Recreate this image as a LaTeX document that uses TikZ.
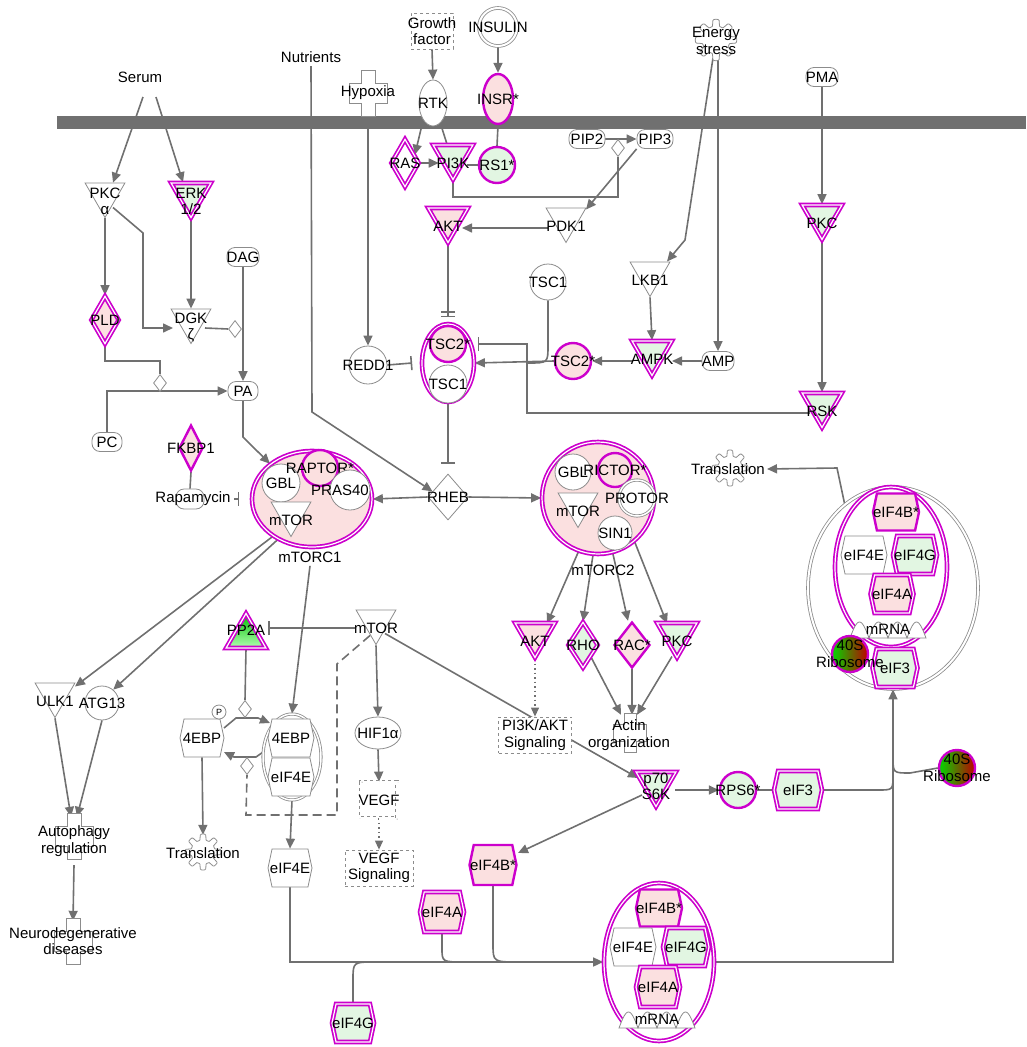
\documentclass[tikz,border=0pt]{standalone}
\usepackage{fontspec}
\setmainfont{Liberation Sans}
\usetikzlibrary{shapes.geometric,shapes.symbols,arrows.meta}
\pgfdeclarelayer{bg}
\pgfsetlayers{bg,main}
\definecolor{mag}{RGB}{204,0,204}
\definecolor{pk}{RGB}{251,224,224}
\definecolor{gn}{RGB}{226,246,226}
\definecolor{lgray}{RGB}{112,112,112}
\definecolor{ngray}{RGB}{140,140,140}
\tikzset{
  gear/.pic={\draw[ngray,line width=0.8pt,fill=white] plot[domain=0:357,samples=120,smooth cycle] (\x:{15+3*tanh(3*cos(8*\x))});},
  plus/.pic={\draw[ngray,line width=0.8pt,fill=white] (-7,-23) -- (7,-23) -- (7,-10) -- (19,-10) -- (19,10) -- (7,10) -- (7,23) -- (-7,23) -- (-7,10) -- (-19,10) -- (-19,-10) -- (-7,-10) -- cycle;},
  mrna/.pic={\draw[ngray,line width=0.8pt,fill=white] plot[domain=0:4,samples=81] ({-38+19*\x},{-16*abs(sin(180*\x))}) -- cycle;}
}
\begin{document}
\begin{tikzpicture}[x=1pt,y=-1pt,font=\fontsize{15}{16.5}\selectfont,
  lbs/.style={align=center,inner sep=0pt},
  lb/.style={label={[lbs]center:#1}},
  tlb/.style={label={[lbs,yshift=-7pt]center:#1}},
  gr/.style={draw=ngray,line width=0.8pt,fill=white},
  m1/.style={draw=mag,line width=2.4pt},
  m2/.style={draw=mag,line width=1.7pt,double=white,double distance=1.2pt},
  tridn/.style={regular polygon,regular polygon sides=3,shape border rotate=180,minimum size=46pt,inner sep=0pt},
  triup/.style={regular polygon,regular polygon sides=3,minimum size=46pt,inner sep=0pt},
  hex/.style={signal,signal to=east and west,signal pointer angle=156,inner sep=0pt,minimum width=46pt,minimum height=38pt},
  chem/.style={gr,rectangle,rounded corners=8pt,inner sep=0pt,minimum width=32pt,minimum height=19pt},
  smd/.style={gr,diamond,inner sep=0pt,minimum width=13pt,minimum height=17pt},
  box/.style={draw=ngray,line width=0.8pt,dashed,fill=white,inner sep=0pt},
  ln/.style={draw=lgray,line width=1.6pt},
  arr/.style={ln,-{Triangle[length=10pt,width=9pt]}},
  inh/.style={ln,-{Bar[width=14pt]}},
  dot/.style={draw=lgray,line width=1.2pt,dash pattern=on 1.5pt off 3pt,-{Triangle[length=9pt,width=8pt]}}
]
\useasboundingbox (0,0) rectangle (1026,1047);

% outside the cell
\node (serum) at (140,77) {Serum};
\node (nutr) at (311,57) {Nutrients};
\node[box,minimum width=42pt,minimum height=36pt,lb={Growth\\factor}] (gf) at (432,31) {};
\node[circle,gr,double,double distance=2pt,minimum size=38pt,lb={INSULIN}] (insulin) at (498,27) {};
\pic at (368,93) {plus};
\node[inner sep=0pt,minimum height=40pt] (hypox) at (368,93) {Hypoxia};
\pic[scale=1.15] at (716,40) {gear};
\node[align=center] (energy) at (716,41) {Energy\\stress};
\node[chem,lb=PMA] (pma) at (822,77) {};

% membrane level
\node[ellipse,gr,minimum width=28pt,minimum height=46pt,lb=RTK] (rtk) at (433,103) {};
\node[ellipse,m1,fill=pk,minimum width=30pt,minimum height=50pt,lb={INSR*}] (insr) at (498,99) {};
\node[diamond,m2,fill=white,inner sep=0pt,minimum width=28pt,minimum height=48pt,lb=RAS] (ras) at (405,163) {};
\node[tridn,m2,fill=gn,tlb=PI3K] (pi3k) at (453,156.5) {};
\node[circle,m1,fill=gn,minimum size=36pt,lb={RS1*}] (rs1) at (497,165) {};
\node[chem,minimum width=36pt,lb=PIP2] (pip2) at (587,139) {};
\node[chem,minimum width=36pt,lb=PIP3] (pip3) at (655,139) {};
\node[smd] (dm1) at (618,148) {};
\node[tridn,m2,fill=pk,tlb=AKT] (akt1) at (448,219.5) {};
\node[tridn,gr,tlb=PDK1] (pdk1) at (566,219.5) {};
\node[tridn,m2,fill=gn,tlb=PKC] (pkc1) at (822,216.5) {};
\node[tridn,gr,tlb=LKB1] (lkb1) at (650,273.5) {};
\node[circle,gr,minimum size=36pt,lb=TSC1] (tsc1a) at (548,282) {};
\node[tridn,m2,fill=gn,tlb=AMPK] (ampk) at (652,352.5) {};
\node[chem,lb=AMP] (amp) at (718,361) {};
\node[circle,m1,fill=pk,minimum size=36pt,lb={TSC2*}] (tsc2b) at (573,361) {};
\node[tridn,m2,fill=gn,tlb=RSK] (rsk) at (822,404.5) {};
\node[circle,gr,minimum size=38pt,lb=REDD1] (redd1) at (368,365) {};
\node[ellipse,m2,fill=white,minimum width=52pt,minimum height=78pt] (tsccx) at (448,363) {};
\node[circle,m1,fill=pk,minimum size=36pt,lb={TSC2*}] (tsc2a) at (448,344) {};
\node[circle,gr,minimum size=38pt,lb=TSC1] (tsc1b) at (448,384) {};

% lipid branch
\node[tridn,gr,tlb={PKC\\α}] (pkca) at (105,194.5) {};
\node[tridn,m2,fill=gn,tlb={ERK\\1/2}] (erk) at (191,194.5) {};
\node[chem,lb=DAG] (dag) at (243,257) {};
\node[tridn,gr,tlb={DGK\\ζ}] (dgk) at (191,320.5) {};
\node[smd] (dm2) at (235,329) {};
\node[diamond,m2,fill=pk,inner sep=0pt,minimum width=28pt,minimum height=48pt,lb=PLD] (pld) at (105,320) {};
\node[smd] (dm3) at (160,383) {};
\node[chem,minimum width=30pt,lb=PA] (pa) at (243,391) {};
\node[chem,minimum width=30pt,lb=PC] (pc) at (107,442) {};
\node[diamond,m1,fill=pk,inner sep=0pt,minimum width=24pt,minimum height=46pt,lb=FKBP1] (fkbp1) at (191,448) {};
\node[chem,minimum width=28pt,minimum height=20pt,label={[lbs,xshift=3pt]center:Rapamycin}] (rapa) at (190,499) {};

% mTORC1
\node[ellipse,m2,fill=pk,minimum width=120pt,minimum height=96pt] (mtorc1) at (312,499) {};
\node[circle,gr,minimum size=38pt,lb=GBL] (gbl1) at (281,483) {};
\node[circle,m1,fill=pk,minimum size=36pt,lb={RAPTOR*}] (raptor) at (320,468) {};
\node[circle,gr,minimum size=40pt,label={[lbs,xshift=-10pt]center:PRAS40}] (pras) at (350,490) {};
\node[tridn,gr,tlb=mTOR] (mtor1) at (291,513.5) {};
\node (lab1) at (310,557) {mTORC1};
\node[diamond,gr,inner sep=0pt,minimum width=40pt,minimum height=46pt,lb=RHEB] (rheb) at (448,497) {};

% mTORC2
\node[circle,m2,fill=pk,minimum size=112pt] (mtorc2) at (598,498) {};
\node[circle,gr,minimum size=36pt,lb=GBL] (gbl2) at (573,472) {};
\node[circle,m1,fill=pk,minimum size=34pt,lb={RICTOR*}] (rictor) at (615,470) {};
\node[circle,gr,double,double distance=1.5pt,minimum size=36pt,lb=PROTOR] (protor) at (637,498) {};
\node[tridn,gr,tlb=mTOR] (mtor2) at (578,504.5) {};
\node[circle,gr,minimum size=34pt,lb=SIN1] (sin1) at (615,533) {};
\node (lab2) at (603,570) {mTORC2};

% autophagy
\node[tridn,gr,tlb=ULK1] (ulk1) at (55,694.5) {};
\node[circle,gr,minimum size=34pt,lb=ATG13] (atg13) at (102,703) {};
\pic at (74,836) {plus};
\node[align=center,inner sep=0pt,minimum height=48pt] (autoph) at (74,841) {Autophagy\\regulation};
\pic at (73,941) {plus};
\node[align=center,inner sep=0pt,minimum height=40pt] (neuro) at (73,941) {Neurodegenerative\\diseases};

% 4EBP cycle
\node[triup,m2,top color=green!75!black,bottom color=green!30,label={[lbs,yshift=6pt]center:PP2A}] (pp2a) at (246,636.5) {};
\node[tridn,gr,tlb=mTOR] (mtor3) at (376,621.5) {};
\node[smd] (dm4) at (245,709) {};
\node[smd] (dm5) at (247,766) {};
\node[hex,gr,minimum width=44pt,lb=4EBP] (ebpp) at (202,738) {};
\node[circle,gr,inner sep=0pt,minimum size=14pt,font=\fontsize{9}{10}\selectfont] (ph) at (219,712) {P};
\node[ellipse,gr,double,double distance=1.5pt,minimum width=58pt,minimum height=86pt] (ebpcx) at (292,757) {};
\node[hex,gr,lb=4EBP] (ebp) at (291,738) {};
\node[hex,gr,lb=eIF4E] (e4e1) at (291,777) {};
\pic at (203,852) {gear};
\node[inner sep=0pt,minimum height=36pt] (trans1) at (203,853) {Translation};
\node[hex,gr,minimum width=44pt,lb=eIF4E] (e4e2) at (290,868) {};

% HIF / VEGF
\node[ellipse,gr,minimum width=46pt,minimum height=32pt,lb={HIF1α}] (hif1a) at (378,733) {};
\node[box,double,double distance=3pt,minimum width=36pt,minimum height=36pt,lb=VEGF] (vegf) at (379,800) {};
\node[box,minimum width=68pt,minimum height=36pt,lb={VEGF\\Signaling}] (vegfs) at (379,868) {};

% mTORC2 targets
\node[tridn,m2,fill=pk,tlb=AKT] (akt2) at (535,634.5) {};
\node[diamond,m2,fill=gn,inner sep=0pt,minimum width=30pt,minimum height=46pt,lb=RHO] (rho) at (583,645) {};
\node[diamond,m1,fill=pk,inner sep=0pt,minimum width=36pt,minimum height=46pt,lb={RAC*}] (rac) at (632,645) {};
\node[tridn,m2,fill=gn,tlb=PKC] (pkc2) at (677,634.5) {};
\pic[scale=0.85] at (630,733) {plus};
\node[align=center,inner sep=0pt,minimum height=40pt] (actin) at (629,735) {Actin\\organization};
\node[box,minimum width=73pt,minimum height=36pt,lb={PI3K/AKT\\Signaling}] (pi3ks) at (535,735) {};

% S6K branch
\node[tridn,m2,fill=gn,label={[lbs,yshift=-3pt]center:p70\\S6K}] (p70) at (656,783.5) {};
\node[circle,m1,fill=gn,minimum size=36pt,lb={RPS6*}] (rps6) at (738,790) {};
\node[hex,m2,fill=gn,minimum width=48pt,lb=eIF3] (eif3b) at (798,790) {};
\node[circle,m1,left color=green!85!black,right color=red!75!black,minimum size=36pt,lb={40S\\Ribosome}] (ribo2) at (957,768) {};
\node[hex,m1,fill=pk,minimum width=47pt,minimum height=40pt,lb={eIF4B*}] (e4b2) at (493,865) {};
\node[hex,m2,fill=pk,minimum width=44pt,minimum height=40pt,lb=eIF4A] (e4a2) at (442,912) {};
\node[hex,m2,fill=gn,minimum width=42pt,lb=eIF4G] (e4g2) at (353,1023) {};

% lower eIF4F complex
\node[ellipse,m2,fill=white,minimum width=110pt,minimum height=158pt] (cx2) at (659,962) {};
\node[hex,m1,fill=pk,minimum height=37pt,lb={eIF4B*}] (e4b3) at (659,908) {};
\node[hex,gr,lb=eIF4E] (e4e3) at (633,947) {};
\node[hex,m2,fill=gn,lb=eIF4G] (e4g3) at (686,947) {};
\node[hex,m2,fill=pk,minimum width=44pt,minimum height=40pt,lb=eIF4A] (e4a3) at (658,987) {};
\pic at (657,1028) {mrna};
\node (mrna2) at (657,1019) {mRNA};

% upper eIF4F complex
\node[ellipse,gr,double,double distance=2pt,minimum width=170pt,minimum height=202pt] (cxo) at (893,588) {};
\node[ellipse,m2,fill=white,minimum width=112pt,minimum height=160pt] (cxi) at (891,567) {};
\node[hex,m1,fill=pk,minimum height=37pt,lb={eIF4B*}] (e4b1) at (896,512) {};
\node[hex,gr,lb=eIF4E] (e4e4) at (864,555) {};
\node[hex,m2,fill=gn,minimum width=44pt,lb=eIF4G] (e4g1) at (915,555) {};
\node[hex,m2,fill=pk,minimum width=43pt,lb=eIF4A] (e4a1) at (892,594) {};
\pic at (888,638) {mrna};
\node (mrna1) at (888,629) {mRNA};
\node[hex,m2,fill=gn,minimum width=45pt,lb=eIF3] (eif3a) at (895,668) {};
\node[circle,m1,left color=green!85!black,right color=red!75!black,minimum size=36pt,lb={40S\\Ribosome}] (ribo1) at (850,654) {};
\pic at (730,468) {gear};
\node[inner sep=2pt] (trans2) at (728,469) {Translation};

\begin{pgfonlayer}{bg}
\fill[lgray] (57,116) rectangle (1026,129);
\draw[arr] ([shift={(3,20)}]serum.center) -- ([xshift=8pt]pkca.north);
\draw[arr] ([shift={(16,20)}]serum.center) -- ([xshift=-8pt]erk.north);
\draw[arr] (nutr.south) -- (312,412) -- (rheb.160);
\draw[arr] (hypox.south) -- (redd1.north);
\draw[arr] (gf.south) -- (rtk.north);
\draw[arr] (insulin.south) -- (insr.north);
\draw[ln] (insr.south) -- (rs1.north);
\draw[arr] (rtk.240) -- (ras.40);
\draw[ln] (rtk.290) -- ([xshift=-6pt]pi3k.north);
\draw[arr] (ras.east) -- (ras.east -| pi3k.west);
\draw[ln] (rs1.west) -- (rs1.west -| pi3k.east);
\draw[ln] (pi3k.south) -- ++(0,16) -| (dm1.south);
\draw[arr] (pip2.east) -- (pip3.west);
\draw[arr] (pip3.south west) -- ([shift={(20,-10)}]pdk1.center);
\draw[arr] ([shift={(-18,8.5)}]pdk1.center) -- ([shift={(14,8.5)}]akt1.center);
\draw[ln,-{Bar[width=14pt,sep=3pt]Bar[width=14pt]}] (akt1.south) -- ([yshift=6pt]tsccx.north);
\draw[arr] ([xshift=-3pt]energy.south) -- (685,240) -- ([shift={(17,-12)}]lkb1.center);
\draw[arr] (energy.south -| amp.north) -- (amp.north);
\draw[arr] (pma.south) -- (pkc1.north);
\draw[arr] (pkc1.south) -- (rsk.north);
\draw[arr] (lkb1.south) -- (ampk.north);
\draw[arr] (amp.west) -- ([shift={(20,8.5)}]ampk.center);
\draw[arr] ([shift={(-19,8.5)}]ampk.center) -- (tsc2b.east);
\draw[arr] (tsc2b.west) -- (tsccx.east);
\draw[ln] (tsc1a.south) -- (548,345) .. controls (548,363) .. (528,363);
\draw[inh] (redd1.east) -- ([xshift=-9pt]tsccx.west);
\draw[inh] ([shift={(-12,8.5)}]rsk.center) -| (527,344) -- ([shift={(3,-19)}]tsccx.east);
\draw[inh] (tsccx.south) -- ([yshift=10pt]rheb.north);
\draw[arr] (rheb.west) -- (mtorc1.east);
\draw[arr] (rheb.east) -- (mtorc2.west);
\draw[arr] (pkca.south) -- (pld.north);
\draw[arr] ([shift={(8,13)}]pkca.center) -- (143,233) -- (143,328) -- ([shift={(-18,7.5)}]dgk.center);
\draw[arr] (erk.south) -- (dgk.north);
\draw[arr] (dag.south) -- (pa.north);
\draw[ln] ([shift={(14,7.5)}]dgk.center) -- (dm2.west);
\draw[ln] (pld.south) |- (160,361) -- (dm3.north);
\draw[arr] (pc.north) |- (pa.west);
\draw[arr] (pa.south) -- (243,437) -- (mtorc1.140);
\draw[ln] (fkbp1.south) -- (rapa.north);
\draw[inh] ([xshift=30pt]rapa.east) -- ([xshift=-12pt]mtorc1.west);
\draw[arr] ([shift={(-17,22)}]mtor1.center) -- ([shift={(20,-8)}]ulk1.center);
\draw[arr] ([shift={(-11,24)}]mtor1.center) -- (atg13.50);
\draw[arr] (lab1.south) -- (ebpcx.north);
\draw[inh] ([shift={(-21,6.5)}]mtor3.center) -- ([shift={(22,-8.5)}]pp2a.center);
\draw[ln] (pp2a.south) -- (dm4.north);
\draw[arr] ([shift={(22,-10)}]ebpp.center) -- (236,718) -- (258,718) -- ([shift={(-21,-15)}]ebp.center);
\draw[arr] ([shift={(-25,12)}]ebp.center) -- (256,757) -- (234,757) -- ([shift={(22,14)}]ebpp.center);
\draw[ln,dash pattern=on 9pt off 5pt] ([shift={(-6,14)}]mtor3.center) -- (337,664) -- (337,815) -- (246,815) -- (dm5.south);
\draw[arr] (ebpp.south) -- (trans1.north);
\draw[arr] (ebpcx.south) -- (e4e2.north);
\draw[arr] (e4e2.south) |- (cx2.west);
\draw[ln] (e4a2.south) -- (442,948) .. controls (442,962) .. (465,962);
\draw[ln] (e4b2.south) -- (493,944) .. controls (493,962) .. (520,962);
\draw[ln] (e4g2.north) -- (353,980) .. controls (353,962) .. (375,962);
\draw[arr] (ulk1.south) -- ([xshift=-3pt]autoph.north);
\draw[arr] (atg13.south) -- ([xshift=3pt]autoph.north);
\draw[arr] (autoph.south) -- (neuro.north);
\draw[arr] (mtor3.south) -- (hif1a.north);
\draw[arr] (hif1a.south) -- (vegf.north);
\draw[dot] (vegf.south) -- (vegfs.north);
\draw[arr] ([shift={(9,12)}]mtor3.center) -- ([shift={(-18,-5.5)}]p70.center);
\draw[dot] (akt2.south) -- (pi3ks.north);
\draw[arr] (mtorc2.250) -- ([shift={(12,-11)}]akt2.center);
\draw[arr] (mtorc2.265) -- (rho.north);
\draw[arr] (mtorc2.285) -- ([xshift=-4pt]rac.north);
\draw[arr] (mtorc2.310) -- ([shift={(-10,-11)}]pkc2.center);
\draw[arr] (rho.south east) -- ([xshift=-8pt]actin.north);
\draw[arr] (rac.south) -- (rac.south |- actin.north);
\draw[arr] ([shift={(-5,22)}]pkc2.center) -- ([xshift=8pt]actin.north);
\draw[arr] ([shift={(19,6.5)}]p70.center) -- (rps6.west);
\draw[ln] (rps6.east) -- (eif3b.west);
\draw[arr] ([shift={(-14,11.5)}]p70.center) -- ([shift={(25,-12)}]e4b2.center);
\draw[arr] (cx2.east) -| (cxo.south);
\draw[ln] (eif3b.east) -- (878,790) .. controls (893,790) .. (893,775);
\draw[ln] (ribo2.west) -- (910,773) .. controls (893,773) .. (893,757);
\draw[arr] (cxo.120) -- (837,468) -- (trans2.east);
\end{pgfonlayer}
\end{tikzpicture}
\end{document}
